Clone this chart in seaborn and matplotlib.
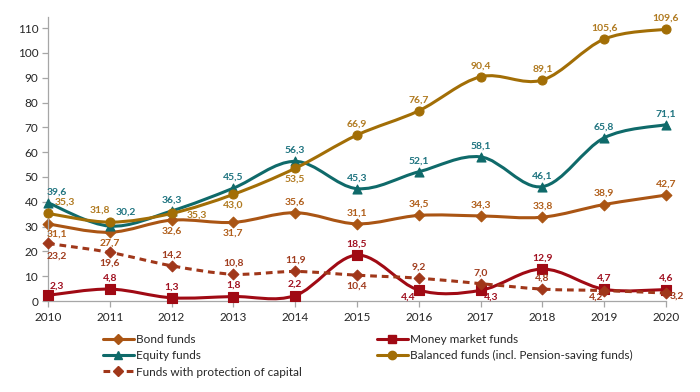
import numpy as np
import pandas as pd
import matplotlib
matplotlib.use("Agg")
import matplotlib.pyplot as plt
from matplotlib.path import Path
from matplotlib.patches import PathPatch
from matplotlib.lines import Line2D
import seaborn as sns

# ---------------- data ----------------
years = [2010, 2011, 2012, 2013, 2014, 2015, 2016, 2017, 2018, 2019, 2020]
bond = [31.1, 27.7, 32.6, 31.7, 35.6, 31.1, 34.5, 34.3, 33.8, 38.9, 42.7]
money = [2.3, 4.8, 1.3, 1.8, 2.2, 18.5, 4.4, 4.3, 12.9, 4.7, 4.6]
equity = [39.6, 30.2, 36.3, 45.5, 56.3, 45.3, 52.1, 58.1, 46.1, 65.8, 71.1]
balanced = [35.3, 31.8, 35.3, 43.0, 53.5, 66.9, 76.7, 90.4, 89.1, 105.6, 109.6]
protection = [23.2, 19.6, 14.2, 10.8, 11.9, 10.4, 9.2, 7.0, 4.8, 4.2, 3.2]
series_names = ["Bond funds", "Money market funds", "Equity funds",
                "Balanced funds (incl. Pension-saving funds)",
                "Funds with protection of capital"]
y_ticks = [0, 10, 20, 30, 40, 50, 60, 70, 80, 90, 100, 110]

# ---------------- styles ----------------
sns.set_theme(style="white")
plt.rcParams['font.family'] = ['Lato', 'DejaVu Sans']

colors = ['#AA5514', '#A00A14', '#0F6A6A', '#A26E06', '#A0371A']
label_colors = ['#B05E1A', '#A01020', '#1F7480', '#B07A20', '#A03C1E']
markers = ['D', 's', '^', 'o', 'D']
msizes = [30, 42, 42, 42, 30]
styles = ['-', '-', '-', '-', '--']

# label offsets in pixels (dx, dy up)
A, B = (0, 11), (0, -11)
offsets = [
    [(9, -10), B, B, B, A, A, A, A, A, A, A],
    [(9, 9), A, A, A, A, A, (-11, -7), (11, -7), A, A, A],
    [(9, 11), (16, 14), A, A, A, A, A, A, A, A, A],
    [(17, 11), (-10, 12), (25, -2), B, B, A, A, A, A, A, A],
    [(9, -13), B, A, A, A, B, A, A, A, (-8, -7), (11, -3)],
]

data = [bond, money, equity, balanced, protection]
df = pd.DataFrame({"year": years * 5,
                   "value": sum(data, []),
                   "series": sum([[n] * len(years) for n in series_names], [])})

fig = plt.figure(figsize=(7.0, 3.92), dpi=100)
ax = fig.add_axes([48 / 700, 1 - 301 / 392, (666 - 48) / 700, (301 - 17) / 392])


def smooth_path(xs, ys):
    pts = np.column_stack([xs, ys]).astype(float)
    n = len(pts)
    verts = [pts[0]]
    codes = [Path.MOVETO]
    for i in range(n - 1):
        p0 = pts[i - 1] if i > 0 else pts[i]
        p1 = pts[i]
        p2 = pts[i + 1]
        p3 = pts[i + 2] if i + 2 < n else pts[i + 1]
        c1 = p1 + (p2 - p0) / 6.0
        c2 = p2 - (p3 - p1) / 6.0
        verts += [c1, c2, p2]
        codes += [Path.CURVE4] * 3
    return Path(verts, codes)


for k, name in enumerate(series_names):
    sub = df[df.series == name]
    patch = PathPatch(smooth_path(sub.year.values, sub.value.values),
                      facecolor='none', edgecolor=colors[k], lw=2.2,
                      zorder=2 + k, capstyle='round', joinstyle='round',
                      clip_on=False)
    if styles[k] == '--':
        patch.set_linestyle((0, (2.2, 1.6)))
        patch.set_capstyle('butt')
    ax.add_patch(patch)
    n_before = len(ax.collections)
    sns.scatterplot(data=sub, x="year", y="value", marker=markers[k],
                    s=msizes[k], color=colors[k], edgecolor=colors[k],
                    linewidth=0.8, ax=ax, zorder=2.5 + k, legend=False)
    for c in ax.collections[n_before:]:
        c.set_clip_on(False)
    for j, (x, v) in enumerate(zip(sub.year.values, sub.value.values)):
        dx, dy = offsets[k][j]
        ax.annotate(f"{v:.1f}".replace('.', ','), (x, v),
                    xytext=(dx * 0.72, dy * 0.72), textcoords='offset points',
                    ha='center', va='center', fontsize=7.5, fontweight='bold',
                    color=label_colors[k], zorder=20, annotation_clip=False)

ax.set_xlim(2010, 2020)
ax.set_ylim(0, 114.5)
ax.set_xticks(years)
ax.set_xticklabels([str(y) for y in years])
ax.set_yticks(y_ticks)
ax.set_xlabel("")
ax.set_ylabel("")
for s in ['top', 'right']:
    ax.spines[s].set_visible(False)
for s in ['left', 'bottom']:
    ax.spines[s].set_color('#A6A6A6')
    ax.spines[s].set_linewidth(0.9)
ax.tick_params(axis='both', which='major', direction='out', length=4,
               width=0.9, color='#A6A6A6', labelsize=8.5, labelcolor='#262626',
               pad=3, left=True, bottom=True)
ax.tick_params(axis='x', pad=4)

# legend
handles = []
for k, name in enumerate(series_names):
    handles.append(Line2D([0], [0], color=colors[k], lw=2.2,
                          linestyle=(0, (2.2, 1.6)) if styles[k] == '--' else '-',
                          marker=markers[k], markersize=6 if markers[k] != 'D' else 5,
                          markerfacecolor=colors[k], markeredgecolor=colors[k]))
leg1 = fig.legend([handles[0], handles[2], handles[4]],
                  [series_names[0], series_names[2], series_names[4]],
                  loc='upper left', bbox_to_anchor=(103 / 700, 1 - 334 / 392),
                  frameon=False, fontsize=8.5, handlelength=2.6, handletextpad=0.2,
                  labelspacing=0.45, borderaxespad=0, borderpad=0)
leg2 = fig.legend([handles[1], handles[3]],
                  [series_names[1], series_names[3]],
                  loc='upper left', bbox_to_anchor=(377 / 700, 1 - 334 / 392),
                  frameon=False, fontsize=8.5, handlelength=2.6, handletextpad=0.2,
                  labelspacing=0.45, borderaxespad=0, borderpad=0)
for leg in (leg1, leg2):
    for t in leg.get_texts():
        t.set_color('#262626')

fig.savefig("out.png", dpi=100, facecolor='white')
